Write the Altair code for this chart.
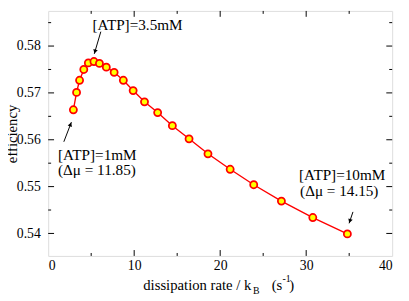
import math
import altair as alt
import pandas as pd

# ---- data ----
rate = [2.93, 3.30, 3.65, 4.14, 4.67, 5.32, 5.96, 6.76, 7.67, 8.74, 9.88,
        11.20, 12.73, 14.44, 16.38, 18.58, 21.16, 23.90, 27.12, 30.77, 34.79]
eff = [0.5664, 0.5701, 0.5727, 0.5750, 0.5764, 0.5767, 0.5763, 0.5755, 0.5744,
       0.5727, 0.5705, 0.5681, 0.5658, 0.5630, 0.5602, 0.5570, 0.5537, 0.5504,
       0.5469, 0.5434, 0.5399]

x_major = [0, 10, 20, 30, 40]
x_minor = [5, 15, 25, 35]
y_major = [0.54, 0.55, 0.56, 0.57, 0.58]
y_minor = [0.545, 0.555, 0.565, 0.575, 0.585]

ann_text = ["[ATP]=3.5mM", "[ATP]=1mM", "(Δμ = 11.85)", "[ATP]=10mM", "(Δμ = 14.15)"]
ann_x = [5.16, 1.14, 1.14, 29.17, 29.29]
ann_y = [0.58439, 0.55679, 0.55345, 0.55240, 0.54906]

arr_x_tail = [6.12, 1.82, 35.44]
arr_y_tail = [0.58307, 0.55957, 0.54460]
arr_x_head = [5.36, 2.70, 34.99]
arr_y_head = [0.57833, 0.56376, 0.54216]

XDOM = [0, 40]
YDOM = [0.5352, 0.5875]
W, H = 351, 250
FONT = "Liberation Serif"

sx = W / (XDOM[1] - XDOM[0])
sy = H / (YDOM[1] - YDOM[0])

df = pd.DataFrame({"rate": rate, "eff": eff})
ann = pd.DataFrame({"t": ann_text, "x": ann_x, "y": ann_y})

heads = []
for xt, yt, xh, yh in zip(arr_x_tail, arr_y_tail, arr_x_head, arr_y_head):
    dx = (xh - xt) * sx
    dy = -(yh - yt) * sy
    L = math.hypot(dx, dy)
    ang = math.degrees(math.atan2(dx, -dy)) % 360
    back = 2.5
    hx = xh - (dx / L) * back / sx
    hy = yh + (dy / L) * back / sy
    heads.append({"x": hx, "y": hy, "a": ang})
arrows = pd.DataFrame({"x": arr_x_tail, "y": arr_y_tail, "x2": arr_x_head, "y2": arr_y_head})
heads = pd.DataFrame(heads)

xs = alt.Scale(domain=XDOM, nice=False, zero=False)
ys = alt.Scale(domain=YDOM, nice=False, zero=False)

base = alt.Chart(df)
line = base.mark_line(color="#ff0000", strokeWidth=1.4).encode(
    x=alt.X("rate:Q", scale=xs,
            axis=alt.Axis(values=x_major, ticks=False, domain=False, grid=False,
                          labelFont=FONT, labelFontSize=14, labelColor="black",
                          labelPadding=3, title=None, format="d")),
    y=alt.Y("eff:Q", scale=ys,
            axis=alt.Axis(values=y_major, ticks=False, domain=False, grid=False,
                          labelFont=FONT, labelFontSize=14, labelColor="black",
                          labelPadding=8, format=".2f", title="efficiency",
                          titleFont=FONT, titleFontSize=15, titleFontWeight="normal",
                          titleColor="black", titleX=-37, titleY=H / 2,
                          titleAngle=270, titleAlign="center", titleBaseline="middle")),
)
pts = base.mark_point(filled=True, fill="#ffff00", stroke="#ff0000", strokeWidth=1.8,
                      size=52, opacity=1).encode(
    x=alt.X("rate:Q", scale=xs), y=alt.Y("eff:Q", scale=ys))

# inward ticks
ymaj = pd.DataFrame({"v": y_major})
ymin = pd.DataFrame({"v": y_minor})
xmaj = pd.DataFrame({"v": x_major[1:-1]})
xmin = pd.DataFrame({"v": x_minor})

def yticks(d, L):
    left = alt.Chart(d).mark_rule(color="black", strokeWidth=1).encode(
        y=alt.Y("v:Q", scale=ys), x=alt.value(0), x2=alt.value(L))
    right = alt.Chart(d).mark_rule(color="black", strokeWidth=1).encode(
        y=alt.Y("v:Q", scale=ys), x=alt.value(W - L), x2=alt.value(W))
    return left + right

def xticks(d, L):
    bot = alt.Chart(d).mark_rule(color="black", strokeWidth=1).encode(
        x=alt.X("v:Q", scale=xs), y=alt.value(H - L), y2=alt.value(H))
    top = alt.Chart(d).mark_rule(color="black", strokeWidth=1).encode(
        x=alt.X("v:Q", scale=xs), y=alt.value(0), y2=alt.value(L))
    return bot + top

ticks = yticks(ymaj, 6) + yticks(ymin, 3) + xticks(xmaj, 6) + xticks(xmin, 3)

texts = alt.Chart(ann).mark_text(font=FONT, fontSize=15.5, align="left",
                                 baseline="middle", color="black").encode(
    x=alt.X("x:Q", scale=xs), y=alt.Y("y:Q", scale=ys), text="t:N")

arrow_lines = alt.Chart(arrows).mark_rule(color="black", strokeWidth=1).encode(
    x=alt.X("x:Q", scale=xs), y=alt.Y("y:Q", scale=ys), x2="x2:Q", y2="y2:Q")
arrow_heads = alt.Chart(heads).mark_point(shape="triangle-up", filled=True,
                                          color="black", size=22, opacity=1).encode(
    x=alt.X("x:Q", scale=xs), y=alt.Y("y:Q", scale=ys), angle=alt.Angle("a:Q", scale=None))

# x axis title with sub/superscripts
tparts = pd.DataFrame({
    "t": ["dissipation rate / k", "B", "(s", "-1", ")"],
    "px": [97, 209, 228, 239, 246],
    "py": [285, 289, 285, 277, 285],
    "fs": [15, 10, 15, 10, 15],
})
title_layers = []
for _, r in tparts.iterrows():
    title_layers.append(
        alt.Chart(pd.DataFrame({"t": [r["t"]]})).mark_text(
            font=FONT, fontSize=float(r["fs"]), align="left", baseline="alphabetic",
            color="black").encode(text="t:N", x=alt.value(float(r["px"])),
                                  y=alt.value(float(r["py"]))))

chart = alt.layer(line, pts, ticks, texts, arrow_lines, arrow_heads, *title_layers).properties(
    width=W, height=H,
    autosize=alt.AutoSizeParams(type="none"),
    padding={"left": 41, "top": 0, "right": 9, "bottom": 43},
).configure_view(stroke="black", strokeWidth=1.2).configure_axis(
    labelFont=FONT, titleFont=FONT
).configure(background="white")

chart.save("out.html", embed_options={"renderer": "svg", "actions": False})
